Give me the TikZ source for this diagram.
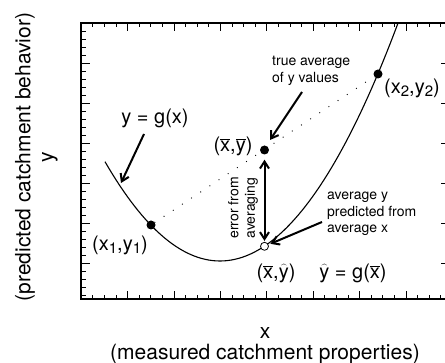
\documentclass[tikz,border=0pt]{standalone}
\usepackage{fontspec}
\setmainfont{TeX Gyre Heros}
\usetikzlibrary{arrows.meta}
\newcommand\ovbar[1]{$\overline{\mbox{#1}}$}
\newcommand\ovhat[1]{$\widehat{\mbox{#1}}$}
\newcommand\lowsub[1]{\raisebox{-.3ex}{\fontsize{15}{15}\selectfont #1}}

\begin{document}
\begin{tikzpicture}[x=1pt,y=-1pt,>={Straight Barb[length=7pt,width=9pt]},big/.style={font=\fontsize{20}{22}\selectfont,inner sep=0pt},small/.style={font=\fontsize{14}{16.5}\selectfont,inner sep=0pt,align=left},axlab/.style={font=\fontsize{21}{22}\selectfont,inner sep=0pt},dot/.style={circle,fill,inner sep=0pt,minimum size=9pt},hollow/.style={circle,draw,fill=white,inner sep=0pt,minimum size=8pt,line width=.8pt},pointer/.style={->,line width=2pt},dots/.style={line width=1.3pt,dash pattern=on 0pt off 11pt,line cap=round}]
\useasboundingbox (0,0) rectangle (445,363);
\begin{scope}
\clip (0,0) rectangle (445,363);
% frame and ticks
\draw[line width=1.2pt] (447,23) -- (81,23) -- (81,299) -- (447,299);
\foreach \i in {1,...,31} \draw (81+11.6*\i,23) -- ++(0,4) (81+11.6*\i,299) -- ++(0,-4);
\foreach \i in {1,...,7} \draw (81+46.4*\i,23) -- ++(0,8) (81+46.4*\i,299) -- ++(0,-8);
\foreach \i in {1,...,34} \draw (81,23+8*\i) -- ++(5,0);
\foreach \i in {1,...,6} \draw (81,23+40*\i) -- ++(9,0) (447,23+40*\i) -- ++(-6,0);
\end{scope}
% the curve y = g(x)
\draw[line width=1.1pt] plot[domain=105:398,samples=80] (\x,{261-0.0075*(\x-220)*(\x-220)});
\node[dot] (p1) at (151,225) {};
\node[dot] (p2) at (378,74) {};
\draw[dots] (p1) -- (p2);
\node[dot] (pbar) at (264.5,150) {};
\node[hollow] (phat) at (264.5,246.3) {};
\draw[pointer,<->,shorten <=5pt,shorten >=1pt] (pbar) -- (phat);
% labels
\node[big] (lg) at (155,118) {y = g(x)};
\node[big] (l1) at (120,245) {(x\lowsub{1},y\lowsub{1})};
\node[big] (l2) at (412,88) {(x\lowsub{2},y\lowsub{2})};
\node[big] (lbar) at (233,146) {(\ovbar{x},\ovbar{y})};
\node[big] (lhat) at (276,273) {(\ovbar{x},\ovhat{y})};
\node[big] (leq) at (353,273) {\ovhat{y} = g(\ovbar{x})};
\node[small,anchor=west] (ltrue) at (272,71) {true average\\of y values};
\node[small,anchor=west] (lpred) at (327,214) {average y\\predicted from\\average x};
\node[small,align=center,rotate=90] (lerr) at (243,208) {error from\\averaging};
\node[axlab] (xname) at (265,333) {x};
\node[axlab] (xdesc) at (265,354) {(measured catchment properties)};
\node[axlab,rotate=90] (yname) at (50,157) {y};
\node[axlab,rotate=90] (ydesc) at (25,157) {(predicted catchment behavior)};
% pointers
\coordinate (gtail) at (144,134);
\coordinate (gtip) at (121,183);
\coordinate (ttail) at (302,92);
\coordinate (ttip) at (270,140);
\coordinate (ptail) at (322,222);
\draw[pointer] (gtail) -- (gtip);
\draw[pointer] (ttail) -- (ttip);
\draw[pointer,shorten >=2pt] (ptail) -- (phat);
\end{tikzpicture}
\end{document}
